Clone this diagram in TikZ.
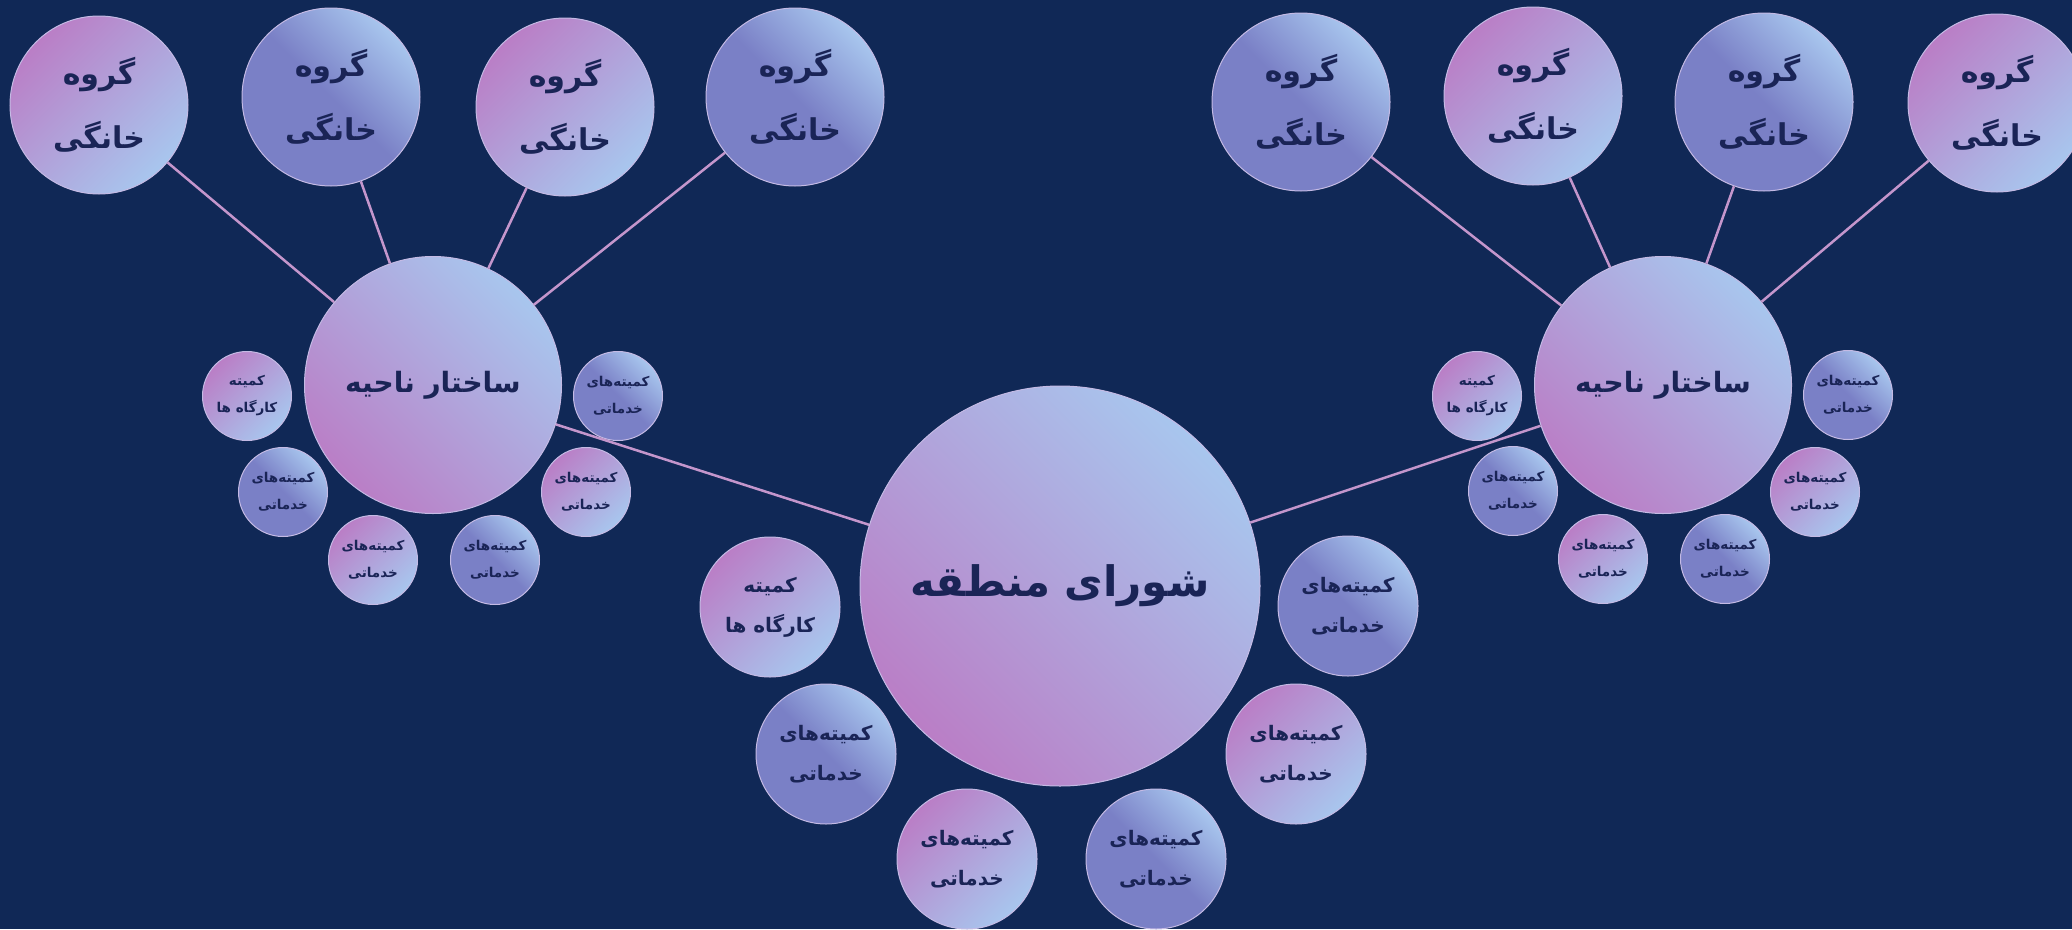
\documentclass[tikz,border=0pt]{standalone}
\usepackage{fontspec}
\newfontfamily\arabicfont[Script=Arabic]{DejaVu Sans}
\TeXXeTstate=1
\newcommand{\fa}[1]{\beginR#1\endR}
\definecolor{bgc}{RGB}{16,40,86}
\definecolor{pinkc}{RGB}{186,126,198}
\definecolor{skyc}{RGB}{168,198,238}
\definecolor{bluec}{RGB}{122,128,198}
\definecolor{linec}{RGB}{196,150,204}
\definecolor{inkc}{RGB}{26,36,86}
\definecolor{rimc}{RGB}{196,186,228}

\begin{document}
\begin{tikzpicture}[x=1pt, y=-1pt,
    ball/.style={circle, inner sep=0pt, draw=rimc, line width=1pt,
                 text=inkc, align=center},
    pinkball/.style={ball, top color=pinkc, bottom color=skyc, shading angle=45},
    blueball/.style={ball, top color=skyc, bottom color=bluec,
                     middle color=bluec, shading angle=-45},
    bigball/.style={ball, top color=skyc, bottom color=pinkc, shading angle=-45},
    council/.style={minimum size=400pt,
                    font=\arabicfont\bfseries\fontsize{42}{50}\selectfont},
    region/.style={minimum size=257pt,
                   font=\arabicfont\bfseries\fontsize{28}{34}\selectfont},
    group/.style={minimum size=178pt,
                  font=\arabicfont\bfseries\fontsize{30}{64}\selectfont},
    cmte/.style={minimum size=140pt,
                 font=\arabicfont\bfseries\fontsize{20}{40}\selectfont},
    subcmte/.style={minimum size=89pt,
                    font=\arabicfont\bfseries\fontsize{13.5}{27}\selectfont},
    link/.style={draw=linec, line width=2.5pt}]
	\useasboundingbox[fill=bgc] (0,0) rectangle (2072,929);

	% council and its committees
	\node[bigball, council] (c0) at (1060,586) {\fa{شورای منطقه}};
	\node[pinkball, cmte] (c1) at (770,607) {\fa{کمیته}\\\fa{کارگاه ها}};
	\node[blueball, cmte] (c2) at (826,754) {\fa{کمیته‌های}\\\fa{خدماتی}};
	\node[pinkball, cmte] (c3) at (967,859) {\fa{کمیته‌های}\\\fa{خدماتی}};
	\node[blueball, cmte] (c4) at (1156,859) {\fa{کمیته‌های}\\\fa{خدماتی}};
	\node[pinkball, cmte] (c5) at (1296,754) {\fa{کمیته‌های}\\\fa{خدماتی}};
	\node[blueball, cmte] (c6) at (1348,606) {\fa{کمیته‌های}\\\fa{خدماتی}};

	% left region
	\node[bigball, region] (s1) at (433,385) {\fa{ساختار ناحیه}};
	\node[pinkball, subcmte] (s1k1) at (247,396) {\fa{کمیته}\\\fa{کارگاه ها}};
	\node[blueball, subcmte] (s1k2) at (283,492) {\fa{کمیته‌های}\\\fa{خدماتی}};
	\node[pinkball, subcmte] (s1k3) at (373,560) {\fa{کمیته‌های}\\\fa{خدماتی}};
	\node[blueball, subcmte] (s1k4) at (495,560) {\fa{کمیته‌های}\\\fa{خدماتی}};
	\node[pinkball, subcmte] (s1k5) at (586,492) {\fa{کمیته‌های}\\\fa{خدماتی}};
	\node[blueball, subcmte] (s1k6) at (618,396) {\fa{کمیته‌های}\\\fa{خدماتی}};

	% right region
	\node[bigball, region] (s2) at (1663,385) {\fa{ساختار ناحیه}};
	\node[pinkball, subcmte] (s2k1) at (1477,396) {\fa{کمیته}\\\fa{کارگاه ها}};
	\node[blueball, subcmte] (s2k2) at (1513,491) {\fa{کمیته‌های}\\\fa{خدماتی}};
	\node[pinkball, subcmte] (s2k3) at (1603,559) {\fa{کمیته‌های}\\\fa{خدماتی}};
	\node[blueball, subcmte] (s2k4) at (1725,559) {\fa{کمیته‌های}\\\fa{خدماتی}};
	\node[pinkball, subcmte] (s2k5) at (1815,492) {\fa{کمیته‌های}\\\fa{خدماتی}};
	\node[blueball, subcmte] (s2k6) at (1848,395) {\fa{کمیته‌های}\\\fa{خدماتی}};

	% home groups
	\node[pinkball, group] (g1) at (99,105) {\fa{گروه}\\\fa{خانگی}};
	\node[blueball, group] (g2) at (331,97) {\fa{گروه}\\\fa{خانگی}};
	\node[pinkball, group] (g3) at (565,107) {\fa{گروه}\\\fa{خانگی}};
	\node[blueball, group] (g4) at (795,97) {\fa{گروه}\\\fa{خانگی}};
	\node[blueball, group] (g5) at (1301,102) {\fa{گروه}\\\fa{خانگی}};
	\node[pinkball, group] (g6) at (1533,96) {\fa{گروه}\\\fa{خانگی}};
	\node[blueball, group] (g7) at (1764,102) {\fa{گروه}\\\fa{خانگی}};
	\node[pinkball, group] (g8) at (1997,103) {\fa{گروه}\\\fa{خانگی}};

	\path[link] (c0) edge (s1);
	\path[link] (c0) edge (s2);
	\path[link] (s1) edge (g1);
	\path[link] (s1) edge (g2);
	\path[link] (s1) edge (g3);
	\path[link] (s1) edge (g4);
	\path[link] (s2) edge (g5);
	\path[link] (s2) edge (g6);
	\path[link] (s2) edge (g7);
	\path[link] (s2) edge (g8);

\end{tikzpicture}
\end{document}
